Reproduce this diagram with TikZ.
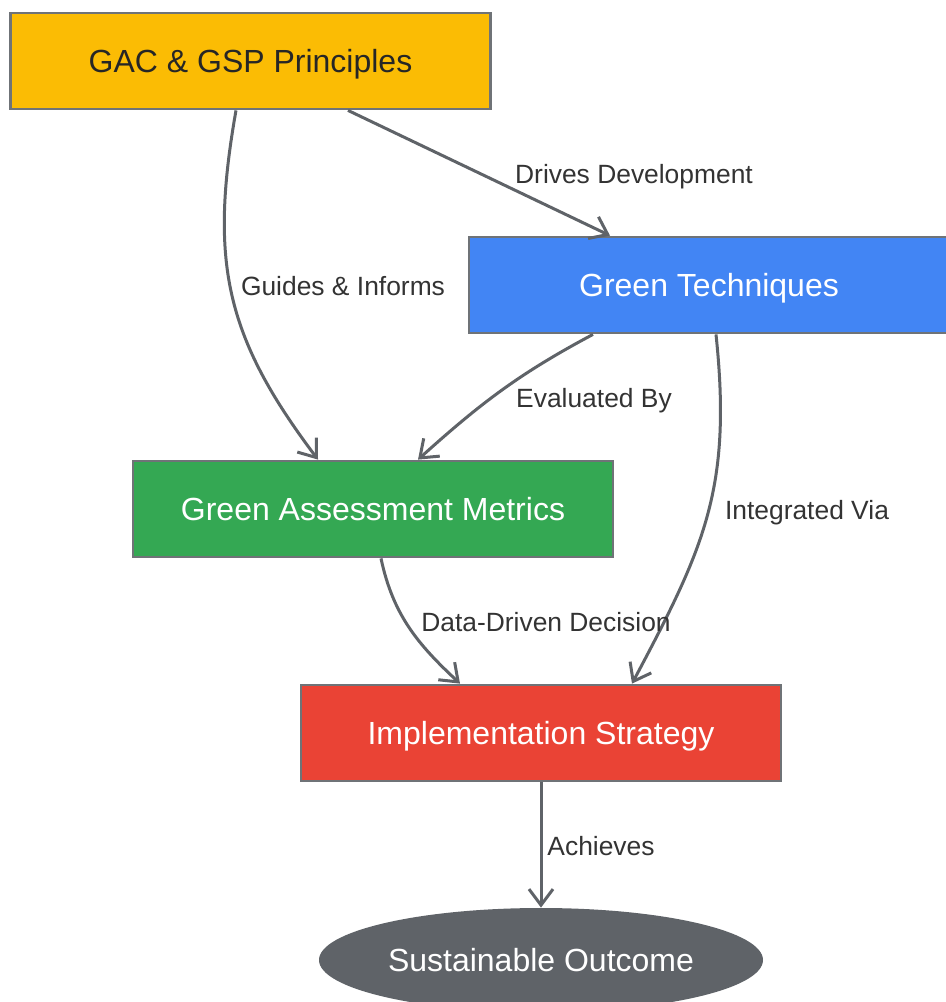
\documentclass[tikz,border=0pt]{standalone}
\usepackage{fontspec}
\setmainfont{Liberation Sans}
\usepackage{tikz}
\usetikzlibrary{shapes.geometric, positioning}
\usetikzlibrary{calc}
\usetikzlibrary{arrows.meta}
\definecolor{gyellow}{HTML}{FBBC04}
\definecolor{gblue}{HTML}{4285F4}
\definecolor{ggreen}{HTML}{34A853}
\definecolor{gred}{HTML}{EA4335}
\definecolor{ggray}{HTML}{5F6368}
\definecolor{edgegray}{HTML}{5F6368}
\definecolor{lbltext}{HTML}{333333}

\begin{document}
\begin{tikzpicture}[x=0.5pt, y=-0.5pt]
			\tikzset{
				stage/.style={rectangle, draw=ggray!90!white, line width=1.4pt, minimum width=240pt, minimum height=48pt, text depth=0pt, text=white, font=\fontsize{16}{19}\selectfont},
				goal/.style={ellipse, fill=ggray, minimum width=222pt, minimum height=52pt, inner sep=0pt, text=white, font=\fontsize{16}{19}\selectfont},
				flow/.style={draw=edgegray, line width=1.5pt, -{Straight Barb[length=8pt,width=12pt]}},
				lbl/.style={text=lbltext, inner sep=1pt, text depth=0pt, font=\fontsize{13.2}{16}\selectfont}
			}
			\useasboundingbox (0,0) rectangle (946,1002);
			% nodes
			\node[stage, fill=gyellow, text=black!85] (gac) at (250.5,61) {GAC \& GSP Principles};
			\node[stage, fill=gblue] (tech) at (709,285) {Green Techniques};
			\node[stage, fill=ggreen] (metrics) at (373,509) {Green Assessment Metrics};
			\node[stage, fill=gred] (impl) at (541,733) {Implementation Strategy};
			\node[goal] (outcome) at (541,960) {Sustainable Outcome};
			% connectors
			\draw[flow] ($(gac.south)+(-14.5,0)$) to[out=-100, in=127, looseness=1.1] ($(metrics.north)+(-55,0)$);
			\draw[flow] ($(gac.south)+(97.5,0)$) -- ($(tech.north)+(-99,0)$);
			\draw[flow] ($(tech.south)+(-116,0)$) to[out=-152, in=42] ($(metrics.north)+(45,0)$);
			\draw[flow] ($(tech.south)+(7,0)$) to[out=-84, in=62, looseness=1.1] ($(impl.north)+(91,0)$);
			\draw[flow] ($(metrics.south)+(8,0)$) to[out=-78, in=137] ($(impl.north)+(-81,0)$);
			\draw[flow] (impl.south) -- (outcome.north);
			% labels
			\node[lbl] (l-guides) at (343,286) {Guides \& Informs};
			\node[lbl] (l-drives) at (634,174) {Drives Development};
			\node[lbl] (l-eval) at (594,398) {Evaluated By};
			\node[lbl] (l-integr) at (807,510) {Integrated Via};
			\node[lbl] (l-data) at (546,622) {Data-Driven Decision};
			\node[lbl] (l-achv) at (601,846) {Achieves};
		\end{tikzpicture}
\end{document}
